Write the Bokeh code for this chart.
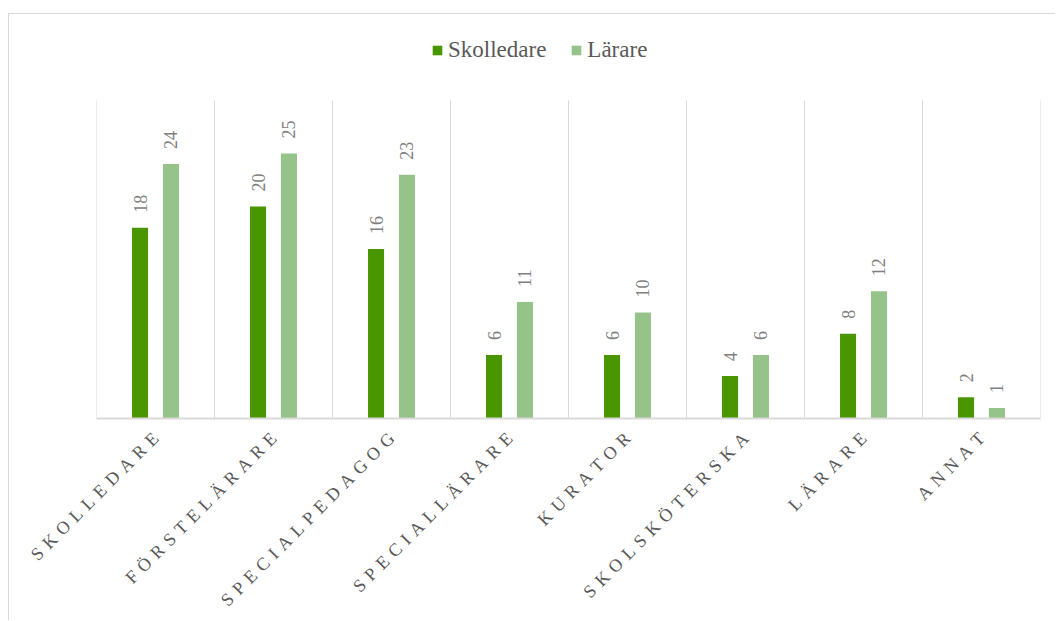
import math
from bokeh.plotting import figure
from bokeh.models import ColumnDataSource, Range1d, FixedTicker, Legend, LegendItem
from bokeh.core.properties import value
from bokeh.embed import file_html
from bokeh.resources import INLINE

categories = ["SKOLLEDARE", "FÖRSTELÄRARE", "SPECIALPEDAGOG", "SPECIALLÄRARE",
              "KURATOR", "SKOLSKÖTERSKA", "LÄRARE", "ANNAT"]
skolledare = [18, 20, 16, 6, 6, 4, 8, 2]
larare = [24, 25, 23, 11, 10, 6, 12, 1]
series_names = ["Skolledare", "Lärare"]
colors = ["#4a9600", "#95c389"]
y_top = 30  # top of the value scale (category separators end here)

FONT = "Liberation Serif"
GRID = "#d9d9d9"

W, H = 1047, 607
B_LEFT, B_RIGHT, B_BOTTOM = 87, 16, 203
plot_px = 318                      # pixel height of the 0..30 value band
frame_h = H - B_BOTTOM
y_max = y_top * frame_h / plot_px  # extra room above for the legend

n = len(categories)
centers = [i + 0.5 for i in range(n)]
bounds_x = list(range(n + 1))
off = 0.131
bw = 0.136

src1 = ColumnDataSource(dict(x=[c - off for c in centers], top=skolledare,
                             lab=[str(v) for v in skolledare]))
src2 = ColumnDataSource(dict(x=[c + off for c in centers], top=larare,
                             lab=[str(v) for v in larare]))

p = figure(width=W, height=H, output_backend="svg", toolbar_location=None,
           x_range=Range1d(0, n), y_range=Range1d(0, y_max),
           min_border_left=B_LEFT, min_border_right=B_RIGHT, min_border_top=0,
           min_border_bottom=B_BOTTOM)
p.styles = {"margin-left": "8px", "margin-top": "13px",
            "border-left": "1px solid #d9d9d9", "border-top": "1px solid #d9d9d9"}
p.outline_line_color = None
p.background_fill_color = "white"
p.border_fill_color = "white"
p.xgrid.visible = False
p.ygrid.visible = False

# category separators (vertical gridlines between categories, 0..y_top)
p.segment(x0=bounds_x, y0=[0] * len(bounds_x), x1=bounds_x, y1=[y_top] * len(bounds_x),
          line_color=GRID, line_width=1)

r1 = p.vbar(x="x", top="top", width=bw, source=src1, color=colors[0], line_color=None)
r2 = p.vbar(x="x", top="top", width=bw, source=src2, color=colors[1], line_color=None)

for s in (src1, src2):
    p.text(x="x", y="top", text="lab", source=s, angle=math.pi / 2,
           text_align="left", text_baseline="middle", y_offset=-15,
           text_font=value(FONT), text_font_size="18px", text_color="#7f7f7f")

p.yaxis.visible = False

ax = p.xaxis[0]
ax.ticker = FixedTicker(ticks=centers)
ax.major_label_overrides = {c: "\u2004".join(list(nm)) for c, nm in zip(centers, categories)}
ax.major_label_orientation = math.pi / 4
ax.major_label_text_font = FONT
ax.major_label_text_font_size = "18px"
ax.major_label_text_color = "#595959"
ax.axis_line_color = GRID
ax.axis_line_width = 2
ax.major_tick_line_color = None
ax.minor_tick_line_color = None
ax.major_tick_out = 0
ax.major_tick_in = 0
ax.minor_tick_out = 0
ax.minor_tick_in = 0
ax.major_label_standoff = 17

legend = Legend(items=[LegendItem(label=series_names[0], renderers=[r1]),
                       LegendItem(label=series_names[1], renderers=[r2])],
                orientation="horizontal", location=(335, frame_h - 49),
                label_text_font=FONT, label_text_font_size="23px",
                label_text_color="#595959", glyph_width=12, glyph_height=12,
                label_standoff=5, spacing=24, padding=0, margin=0,
                border_line_color=None, background_fill_alpha=0)
p.add_layout(legend, "center")

open("out.html", "w").write(file_html(p, INLINE))
